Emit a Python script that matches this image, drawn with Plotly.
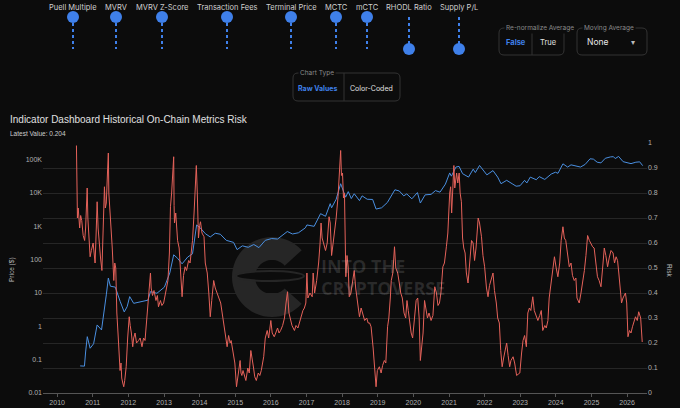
import math
import plotly.graph_objects as go

# bitcoin price, left log axis
price_dates = [
    "2010-08-25", "2010-10-08", "2010-10-20", "2010-11-06", "2010-12-05", "2011-01-10", "2011-02-15",
    "2011-04-01", "2011-05-20", "2011-06-10", "2011-07-01", "2011-08-20", "2011-10-10", "2011-11-20",
    "2011-12-20", "2012-01-15", "2012-02-25", "2012-05-10", "2012-07-20", "2012-08-15", "2012-10-20",
    "2013-01-05", "2013-03-01", "2013-04-10", "2013-05-20", "2013-07-05", "2013-09-01", "2013-10-20",
    "2013-12-01", "2014-01-15", "2014-03-01", "2014-04-20", "2014-06-10", "2014-08-01", "2014-10-01",
    "2014-12-15", "2015-01-20", "2015-03-15", "2015-05-15", "2015-07-10", "2015-09-01", "2015-11-05",
    "2016-01-10", "2016-03-10", "2016-06-18", "2016-08-10", "2016-10-10", "2016-12-20", "2017-01-05",
    "2017-03-20", "2017-05-25", "2017-07-15", "2017-09-01", "2017-09-15", "2017-11-01", "2017-12-17",
    "2018-02-06", "2018-03-05", "2018-04-05", "2018-05-05", "2018-06-28", "2018-07-25", "2018-09-15",
    "2018-11-10", "2018-12-15", "2019-02-10", "2019-04-10", "2019-06-26", "2019-08-10", "2019-09-25",
    "2019-10-26", "2019-12-17", "2020-02-12", "2020-03-13", "2020-05-01", "2020-07-01", "2020-08-15",
    "2020-10-01", "2020-11-25", "2021-01-08", "2021-01-25", "2021-03-13", "2021-04-14", "2021-05-20",
    "2021-07-20", "2021-09-06", "2021-09-28", "2021-11-10", "2021-12-20", "2022-01-24", "2022-03-28",
    "2022-05-15", "2022-06-18", "2022-08-15", "2022-10-10", "2022-11-20", "2022-12-30", "2023-02-15",
    "2023-03-10", "2023-04-14", "2023-06-15", "2023-07-15", "2023-09-10", "2023-11-15", "2023-12-28",
    "2024-01-23", "2024-03-14", "2024-05-01", "2024-06-05", "2024-08-05", "2024-09-10", "2024-10-28",
    "2024-12-17", "2025-01-20", "2025-02-28", "2025-04-08", "2025-05-22", "2025-07-14", "2025-08-14",
    "2025-09-01", "2025-10-06", "2025-11-21", "2026-01-14", "2026-02-10", "2026-04-01", "2026-05-10",
    "2026-06-10",
]
price_values = [
    0.065, 0.064, 0.17, 0.49, 0.22, 0.3, 1.1,
    0.78, 8.8, 28, 16, 15, 5.5, 2.7,
    3.9, 7.8, 4.9, 5.5, 6.1, 11, 9.8,
    15, 40, 140, 110, 75, 120, 150,
    1100, 850, 600, 480, 620, 580, 380,
    330, 200, 260, 235, 285, 230, 380,
    430, 415, 700, 590, 640, 900, 1100,
    1000, 2400, 2000, 4800, 3600, 6500, 19000,
    7500, 11000, 6800, 9500, 5900, 8200, 6500,
    6400, 3300, 3600, 5200, 12500, 11500, 8200,
    9400, 6700, 10300, 5000, 8800, 9100, 11800,
    10600, 18500, 40000, 32000, 60000, 63000, 38000,
    30000, 52000, 41000, 67000, 47000, 35000, 47000,
    30000, 19000, 24000, 19000, 16000, 16500, 24000,
    20000, 30000, 25000, 31000, 25500, 37000, 42000,
    39000, 75000, 60000, 70000, 62000, 60000, 72000,
    106000, 104000, 84000, 80000, 110000, 121000, 123000,
    108000, 125000, 87000, 78000, 76000, 84000, 86000,
    66000,
]

# aggregated on-chain risk, right axis (one block per year)
risk_dates = [
    "2010-07-18", "2010-07-22", "2010-07-28", "2010-08-05", "2010-08-12", "2010-08-20", "2010-08-30", "2010-09-10",
    "2010-09-25", "2010-10-10", "2010-10-20", "2010-11-05", "2010-11-12", "2010-11-20", "2010-12-05", "2010-12-18",
    "2011-01-05", "2011-01-15", "2011-01-25", "2011-02-05", "2011-02-15", "2011-02-25", "2011-03-10", "2011-03-22",
    "2011-04-05", "2011-04-18", "2011-05-01", "2011-05-10", "2011-05-20", "2011-06-01", "2011-06-10", "2011-06-15",
    "2011-06-22", "2011-07-05", "2011-07-20", "2011-08-05", "2011-08-15", "2011-08-25", "2011-09-05", "2011-09-20",
    "2011-10-08", "2011-10-18", "2011-10-25", "2011-11-05", "2011-11-15", "2011-11-25", "2011-12-10", "2011-12-25",
    "2012-01-10", "2012-01-20", "2012-02-01", "2012-02-15", "2012-02-25", "2012-03-10", "2012-03-25", "2012-04-15",
    "2012-05-01", "2012-05-20", "2012-06-05", "2012-06-20", "2012-07-01", "2012-07-20", "2012-08-15", "2012-08-22",
    "2012-09-05", "2012-09-20", "2012-10-10", "2012-10-25", "2012-11-05", "2012-11-25", "2012-12-10", "2012-12-28",
    "2013-01-20", "2013-02-10", "2013-02-25", "2013-03-08", "2013-03-20", "2013-04-02", "2013-04-10", "2013-04-14",
    "2013-04-18", "2013-05-01", "2013-05-20", "2013-06-05", "2013-06-20", "2013-07-05", "2013-07-20", "2013-08-05",
    "2013-08-20", "2013-09-10", "2013-09-25", "2013-10-05", "2013-10-20", "2013-11-05", "2013-11-18", "2013-11-28",
    "2013-12-08", "2013-12-20",
    "2014-01-01", "2014-01-10", "2014-01-25", "2014-02-15", "2014-02-28", "2014-03-20", "2014-04-05", "2014-04-20",
    "2014-05-05", "2014-05-25", "2014-06-10", "2014-07-01", "2014-07-20", "2014-08-05", "2014-08-20", "2014-09-10",
    "2014-09-25", "2014-10-10", "2014-10-25", "2014-11-10", "2014-11-20", "2014-12-10", "2014-12-28",
    "2015-01-14", "2015-01-28", "2015-02-10", "2015-02-20", "2015-03-01", "2015-03-10", "2015-03-22", "2015-04-05",
    "2015-04-20", "2015-05-10", "2015-05-25", "2015-06-10", "2015-06-25", "2015-07-08", "2015-07-20", "2015-08-05",
    "2015-08-25", "2015-09-10", "2015-09-25", "2015-10-20", "2015-11-05", "2015-11-25", "2015-12-10",
    "2016-01-01", "2016-01-15", "2016-02-05", "2016-02-20", "2016-03-10", "2016-03-25", "2016-04-10", "2016-05-01",
    "2016-05-20", "2016-06-05", "2016-06-20", "2016-07-05", "2016-07-20", "2016-08-05", "2016-08-30", "2016-09-15",
    "2016-10-05", "2016-11-05", "2016-11-25", "2016-12-10", "2016-12-25",
    "2017-01-05", "2017-01-15", "2017-02-05", "2017-02-28", "2017-03-10", "2017-03-25", "2017-04-15", "2017-05-05",
    "2017-05-20", "2017-05-30", "2017-06-10", "2017-06-25", "2017-07-15", "2017-08-01", "2017-08-20", "2017-09-01",
    "2017-09-15", "2017-10-01", "2017-10-15", "2017-11-01", "2017-11-20", "2017-12-05", "2017-12-17", "2017-12-25",
    "2018-01-05", "2018-01-15", "2018-01-25", "2018-02-08", "2018-02-20", "2018-03-05", "2018-03-15", "2018-04-01",
    "2018-04-20", "2018-05-05", "2018-05-20", "2018-06-10", "2018-06-28", "2018-07-15", "2018-08-01", "2018-08-20",
    "2018-09-10", "2018-09-25", "2018-10-10", "2018-10-25", "2018-11-15", "2018-11-28", "2018-12-15", "2018-12-28",
    "2019-01-18", "2019-02-05", "2019-02-20", "2019-03-10", "2019-03-25", "2019-04-12", "2019-04-25", "2019-05-10",
    "2019-05-20", "2019-06-05", "2019-06-22", "2019-07-05", "2019-07-25", "2019-08-10", "2019-08-25", "2019-09-10",
    "2019-09-28", "2019-10-15", "2019-10-28", "2019-11-10", "2019-11-25", "2019-12-10", "2019-12-25",
    "2020-01-15", "2020-01-30", "2020-02-15", "2020-03-01", "2020-03-13", "2020-03-25", "2020-04-10", "2020-04-25",
    "2020-05-10", "2020-05-25", "2020-06-10", "2020-07-01", "2020-07-20", "2020-08-08", "2020-08-25", "2020-09-10",
    "2020-09-25", "2020-10-10", "2020-10-30", "2020-11-15", "2020-12-05", "2020-12-20",
    "2021-01-08", "2021-01-18", "2021-01-28", "2021-02-10", "2021-02-20", "2021-03-01", "2021-03-20", "2021-04-01",
    "2021-04-15", "2021-04-25", "2021-05-08", "2021-05-20", "2021-06-01", "2021-06-15", "2021-06-28", "2021-07-15",
    "2021-07-28", "2021-08-20", "2021-09-05", "2021-09-20", "2021-10-05", "2021-10-27", "2021-11-10", "2021-11-30",
    "2021-12-15",
    "2022-01-01", "2022-01-20", "2022-02-05", "2022-02-20", "2022-03-12", "2022-03-28", "2022-04-12", "2022-05-01",
    "2022-05-15", "2022-06-01", "2022-06-15", "2022-06-30", "2022-07-15", "2022-08-01", "2022-08-15", "2022-08-30",
    "2022-09-15", "2022-09-28", "2022-10-20", "2022-11-05", "2022-11-25", "2022-12-10", "2022-12-28",
    "2023-01-15", "2023-01-30", "2023-02-15", "2023-03-05", "2023-03-20", "2023-04-05", "2023-04-20", "2023-05-10",
    "2023-05-25", "2023-06-10", "2023-07-01", "2023-07-20", "2023-08-05", "2023-08-20", "2023-09-10", "2023-09-25",
    "2023-10-12", "2023-10-25", "2023-11-15", "2023-12-01", "2023-12-18",
    "2024-01-05", "2024-01-22", "2024-02-10", "2024-02-25", "2024-03-14", "2024-03-28", "2024-04-12", "2024-04-28",
    "2024-05-18", "2024-06-05", "2024-06-20", "2024-07-08", "2024-07-25", "2024-08-05", "2024-08-28", "2024-09-15",
    "2024-10-01", "2024-10-20", "2024-11-05", "2024-11-22", "2024-12-10",
    "2025-01-12", "2025-01-28", "2025-02-10", "2025-03-03", "2025-03-20", "2025-04-08", "2025-04-25", "2025-05-12",
    "2025-05-28", "2025-06-15", "2025-07-01", "2025-07-20", "2025-08-10", "2025-08-25", "2025-09-10", "2025-09-25",
    "2025-10-08", "2025-10-20", "2025-11-05", "2025-11-20", "2025-12-15", "2025-12-28",
    "2026-01-10", "2026-01-25", "2026-02-10", "2026-02-25", "2026-03-10", "2026-03-28", "2026-04-15", "2026-04-30",
    "2026-05-20", "2026-06-05",
]
risk_values = [
    0.99, 0.72, 0.70, 0.74, 0.68, 0.66, 0.71, 0.69, 0.63, 0.61, 0.66, 0.82, 0.70, 0.62, 0.545, 0.57,
    0.60, 0.56, 0.52, 0.64, 0.765, 0.66, 0.58, 0.54, 0.49, 0.62, 0.825, 0.74, 0.76, 0.88, 0.96, 0.80,
    0.76, 0.68, 0.58, 0.45, 0.52, 0.50, 0.32, 0.22, 0.09, 0.12, 0.06, 0.04, 0.025, 0.05, 0.105, 0.22,
    0.305, 0.27, 0.24, 0.185, 0.22, 0.24, 0.20, 0.21, 0.22, 0.185, 0.22, 0.21, 0.265, 0.33, 0.48, 0.42,
    0.39, 0.41, 0.37, 0.39, 0.345, 0.37, 0.35, 0.36,
    0.40, 0.45, 0.56, 0.745, 0.80, 0.88, 0.945, 0.75, 0.68, 0.72, 0.61, 0.58, 0.47, 0.385, 0.47, 0.505,
    0.49, 0.53, 0.52, 0.55, 0.61, 0.72, 0.85, 0.91, 0.80, 0.62,
    0.67, 0.685, 0.64, 0.625, 0.52, 0.48, 0.40, 0.305, 0.37, 0.45, 0.42, 0.40, 0.38, 0.36, 0.32, 0.26,
    0.22, 0.185, 0.23, 0.20, 0.21, 0.17, 0.12,
    0.025, 0.07, 0.09, 0.13, 0.08, 0.07, 0.09, 0.065, 0.05, 0.10, 0.08, 0.17, 0.12, 0.10, 0.065, 0.05,
    0.08, 0.07, 0.09, 0.145, 0.22, 0.25, 0.22,
    0.29, 0.24, 0.225, 0.24, 0.26, 0.24, 0.25, 0.27, 0.30, 0.36, 0.405, 0.32, 0.29, 0.27, 0.25, 0.27,
    0.26, 0.305, 0.33, 0.34, 0.36,
    0.48, 0.38, 0.40, 0.385, 0.48, 0.40, 0.45, 0.52, 0.60, 0.68, 0.62, 0.60, 0.57, 0.60, 0.705, 0.68,
    0.55, 0.60, 0.64, 0.70, 0.785, 0.88, 0.97, 0.87,
    0.88, 0.78, 0.80, 0.465, 0.55, 0.50, 0.385, 0.40, 0.46, 0.49, 0.42, 0.36, 0.305, 0.34, 0.32, 0.29,
    0.30, 0.28, 0.28, 0.265, 0.18, 0.105, 0.025, 0.09,
    0.105, 0.08, 0.11, 0.13, 0.12, 0.265, 0.30, 0.38, 0.45, 0.48, 0.585, 0.50, 0.48, 0.44, 0.40, 0.38,
    0.32, 0.30, 0.37, 0.33, 0.27, 0.24, 0.22,
    0.30, 0.37, 0.38, 0.30, 0.13, 0.18, 0.24, 0.37, 0.33, 0.30, 0.32, 0.29, 0.31, 0.425, 0.40, 0.35,
    0.36, 0.40, 0.505, 0.52, 0.585, 0.64,
    0.80, 0.825, 0.72, 0.84, 0.91, 0.82, 0.88, 0.84, 0.88, 0.80, 0.765, 0.62, 0.58, 0.56, 0.48, 0.44,
    0.50, 0.61, 0.60, 0.53, 0.58, 0.70, 0.68, 0.625, 0.55,
    0.505, 0.42, 0.385, 0.43, 0.465, 0.48, 0.41, 0.36, 0.30, 0.28, 0.17, 0.105, 0.14, 0.18, 0.20, 0.15,
    0.105, 0.13, 0.145, 0.12, 0.07, 0.075, 0.08,
    0.16, 0.21, 0.23, 0.185, 0.32, 0.34, 0.33, 0.385, 0.33, 0.31, 0.29, 0.31, 0.33, 0.25, 0.27, 0.26,
    0.29, 0.38, 0.45, 0.48, 0.545,
    0.50, 0.465, 0.52, 0.61, 0.665, 0.62, 0.61, 0.56, 0.505, 0.52, 0.47, 0.45, 0.46, 0.38, 0.36, 0.40,
    0.44, 0.49, 0.55, 0.63, 0.61,
    0.585, 0.58, 0.53, 0.465, 0.45, 0.425, 0.50, 0.58, 0.55, 0.505, 0.54, 0.57, 0.56, 0.52, 0.545, 0.53,
    0.48, 0.42, 0.36, 0.38, 0.40, 0.36,
    0.225, 0.25, 0.24, 0.265, 0.28, 0.305, 0.29, 0.325, 0.30, 0.204,
]
assert len(risk_dates) == len(risk_values)
assert len(price_dates) == len(price_values)

price_ticks = [0.01, 0.1, 1, 10, 100, 1000, 10000, 100000]
price_tick_text = ["0.01", "0.1", "1", "10", "100", "1K", "10K", "100K"]

slider_labels = ["Puell Multiple", "MVRV", "MVRV Z-Score", "Transaction Fees", "Terminal Price",
                 "MCTC", "mCTC", "RHODL Ratio", "Supply P/L"]
slider_weights = [1, 1, 1, 1, 1, 1, 1, 0, 0]
latest_value = 0.204

BG = "#0c0c0c"
BLUE = "#3f80ea"
GRID = "#262626"

# pixel -> paper helpers (plot area is 43..647 x 143..393)
def X(px):
    return (px - 43) / 604

def Y(py):
    return (393 - py) / 250

def P(px, py):
    return f"{X(px):.5f},{Y(py):.5f}"

def rounded_rect(x0, y0, x1, y1, r=5):
    return ("M" + P(x0 + r, y0) + " L" + P(x1 - r, y0) + " Q" + P(x1, y0) + " " + P(x1, y0 + r) +
            " L" + P(x1, y1 - r) + " Q" + P(x1, y1) + " " + P(x1 - r, y1) +
            " L" + P(x0 + r, y1) + " Q" + P(x0, y1) + " " + P(x0, y1 - r) +
            " L" + P(x0, y0 + r) + " Q" + P(x0, y0) + " " + P(x0 + r, y0) + " Z")

fig = go.Figure()
fig.add_trace(go.Scatter(x=price_dates, y=price_values, mode="lines", name="Price",
                         line=dict(color="#4a8fe0", width=1), yaxis="y"))
fig.add_trace(go.Scatter(x=risk_dates, y=risk_values, mode="lines", name="Risk",
                         line=dict(color="#e5625a", width=1), yaxis="y2"))

shapes = []
annotations = []

def text(s, px, py, size=8, color="#d0d0d0", xanchor="center", angle=0, family="Inter", bg=None):
    annotations.append(dict(text=s, x=X(px), y=Y(py), xref="paper", yref="paper", showarrow=False,
                            xanchor=xanchor, yanchor="middle", textangle=angle,
                            font=dict(size=size, color=color, family=family),
                            bgcolor=bg, borderpad=1))

# watermark
cx, cy, R, r = 272, 277, 40, 17
outer = [(cx + R * math.cos(math.radians(a)), cy - R * math.sin(math.radians(a))) for a in range(42, 322, 6)]
inner = [(cx + r * math.cos(math.radians(a)), cy - r * math.sin(math.radians(a))) for a in range(318, 38, -6)]
path = "M" + " L".join(P(a, b) for a, b in outer + inner) + " Z"
shapes.append(dict(type="path", path=path, xref="paper", yref="paper", layer="below",
                   fillcolor="#262626", line=dict(width=0)))
shapes.append(dict(type="circle", xref="paper", yref="paper", layer="below",
                   x0=X(236), x1=X(304), y0=Y(271), y1=Y(281),
                   fillcolor=BG, line=dict(color="#262626", width=2)))
text("<b>INTO THE</b>", 319, 266, size=18, color="rgba(255,255,255,0.13)", xanchor="left", family="Open Sans")
text("<b>CRYPTOVERSE</b>", 319, 288, size=18, color="rgba(255,255,255,0.13)", xanchor="left", family="Open Sans")

# weight sliders
slider_x = [73, 116, 162, 227, 291, 336, 367, 409, 459]
for label, w, sx in zip(slider_labels, slider_weights, slider_x):
    ky = 49 - 32 * w
    shapes.append(dict(type="line", xref="paper", yref="paper", x0=X(sx), x1=X(sx), y0=Y(17), y1=Y(49),
                       line=dict(color=BLUE, width=2, dash="dot")))
    shapes.append(dict(type="circle", xref="paper", yref="paper", x0=X(sx - 6), x1=X(sx + 6),
                       y0=Y(ky - 6), y1=Y(ky + 6), fillcolor=BLUE, line=dict(width=0)))
    text(label, sx, 7, size=7.5)

# toggle boxes
def box(x0, y0, x1, y1, label, div=None):
    shapes.append(dict(type="path", path=rounded_rect(x0, y0, x1, y1), xref="paper", yref="paper",
                       line=dict(color="#333333", width=1)))
    if div:
        shapes.append(dict(type="line", xref="paper", yref="paper", x0=X(div), x1=X(div),
                           y0=Y(y0), y1=Y(y1), line=dict(color="#333333", width=1)))
    text(label, x0 + 5, y0, size=6.5, color="#8a8a8a", xanchor="left", bg=BG)

box(499, 28, 564, 55, "Re-normalize Average", div=532)
text("<b>False</b>", 516, 42, size=7.5, color=BLUE)
text("True", 548, 42, size=7.5, color="#e0e0e0")
box(577, 28, 647, 55, "Moving Average")
text("None", 585, 42, size=8.5, color="#e8e8e8", xanchor="left")
text("▾", 633, 42, size=8, color="#bbbbbb")
box(293, 73, 400, 101, "Chart Type", div=344)
text("<b>Raw Values</b>", 318, 88, size=7, color=BLUE)
text("Color-Coded", 372, 88, size=7, color="#e0e0e0")

# titles
text("Indicator Dashboard Historical On-Chain Metrics Risk", 8, 120, size=10, color="#e0e0e0",
     xanchor="left", family="Liberation Sans")
text(f"Latest Value: {latest_value}", 8, 133, size=6.5, color="#cccccc", xanchor="left",
     family="Liberation Sans")
text("Price ($)", 12, 270, size=6.5, color="#bbbbbb", angle=-90, family="Liberation Sans")
text("Risk", 670, 270, size=6.5, color="#bbbbbb", angle=90, family="Liberation Sans")

tickfont = dict(size=7, color="#b0b0b0", family="Liberation Sans")
fig.update_layout(
    width=680, height=408,
    margin=dict(l=43, r=33, t=143, b=15),
    paper_bgcolor=BG, plot_bgcolor=BG,
    showlegend=False,
    shapes=shapes, annotations=annotations,
    xaxis=dict(type="date", range=["2009-08-09", "2026-07-24"], dtick="M12", tickformat="%Y",
               showgrid=False, showline=True, linecolor="#555555", ticks="outside", ticklen=3,
               tickcolor="#555555", tickfont=tickfont, automargin=False, zeroline=False),
    yaxis=dict(type="log", range=[-2, 5.5], tickvals=price_ticks, ticktext=price_tick_text,
               showgrid=False, zeroline=False, tickfont=tickfont, automargin=False),
    yaxis2=dict(overlaying="y", side="right", range=[0, 1], dtick=0.1, showgrid=True,
                gridcolor=GRID, zeroline=False, tickfont=tickfont, automargin=False),
)

# drop the default page margin so the figure sits at the window corner
fig.write_html("out.html", config={"displayModeBar": False},
               post_script="document.body.style.margin='0';")
